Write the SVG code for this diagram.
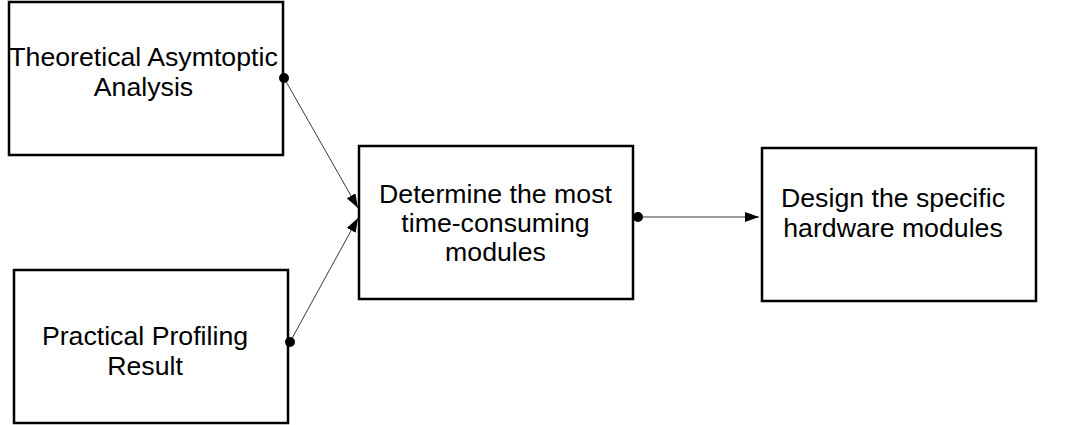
<svg xmlns="http://www.w3.org/2000/svg" width="1065" height="425" viewBox="0 0 1065 425">
<style>
.box{fill:#fff;stroke:#000;stroke-width:2.5}
.t{font-family:"Liberation Sans",Arial,sans-serif;font-size:26.7px;fill:#000;text-anchor:middle}
.c{stroke:#222;stroke-width:0.9;fill:none}
.dot{fill:#000}
</style>
<defs>
<marker id="ah" markerWidth="14" markerHeight="10" refX="14" refY="5" orient="auto" markerUnits="userSpaceOnUse">
<path d="M0,0 L14,5 L0,10 Z" fill="#000"/>
</marker>
</defs>
<rect width="1065" height="425" fill="#fff"/>
<g id="n1">
<rect class="box" x="9" y="2" width="274" height="153"/>
<text class="t" x="143.5" y="66">Theoretical Asymtoptic</text>
<text class="t" x="143.5" y="96">Analysis</text>
</g>
<g id="n2">
<rect class="box" x="14" y="270" width="274" height="153"/>
<text class="t" x="145" y="345">Practical Profiling</text>
<text class="t" x="145" y="375">Result</text>
</g>
<g id="n3">
<rect class="box" x="359" y="146" width="274" height="153"/>
<text class="t" x="495.5" y="203">Determine the most</text>
<text class="t" x="495.5" y="232">time-consuming</text>
<text class="t" x="495.5" y="261">modules</text>
</g>
<g id="n4">
<rect class="box" x="762" y="148" width="274" height="153"/>
<text class="t" x="893" y="207">Design the specific</text>
<text class="t" x="893" y="237">hardware modules</text>
</g>
<g id="connectors">
<line class="c" x1="284" y1="78" x2="358" y2="208" marker-end="url(#ah)"/>
<circle class="dot" cx="284" cy="78" r="5"/>
<line class="c" x1="290" y1="342" x2="358" y2="218" marker-end="url(#ah)"/>
<circle class="dot" cx="290" cy="342" r="5"/>
<line class="c" x1="638" y1="217" x2="759" y2="217" marker-end="url(#ah)"/>
<circle class="dot" cx="638" cy="217" r="5"/>
</g>
</svg>
